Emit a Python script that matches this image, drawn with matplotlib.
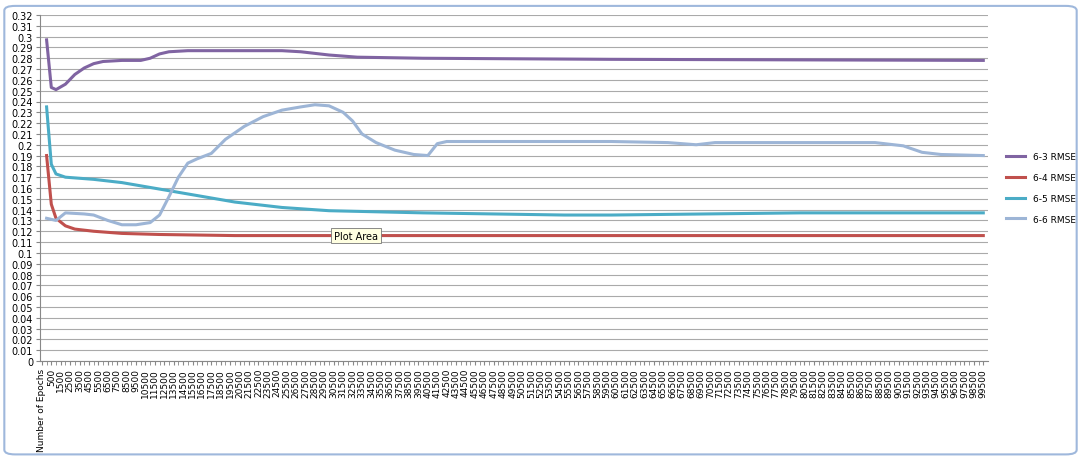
import numpy as np
import matplotlib.pyplot as plt
from matplotlib.patches import FancyBboxPatch

# values (epoch, RMSE)
e63 = [0, 500, 1000, 2000, 3000, 4000, 5000, 6000, 8000, 10000, 11000, 12000, 13000, 15000,
       20000, 25000, 27000, 30000, 33000, 40000, 60000, 99500]
r63 = [0.297, 0.253, 0.251, 0.256, 0.265, 0.271, 0.275, 0.277, 0.278, 0.278, 0.280, 0.284,
       0.286, 0.287, 0.287, 0.287, 0.286, 0.283, 0.281, 0.280, 0.279, 0.278]

e64 = [0, 500, 1000, 2000, 3000, 5000, 8000, 12000, 20000, 99500]
r64 = [0.190, 0.145, 0.132, 0.125, 0.122, 0.120, 0.118, 0.117, 0.116, 0.116]

e65 = [0, 500, 1000, 2000, 5000, 8000, 12000, 16000, 20000, 25000, 30000, 40000, 55000,
       60000, 70000, 80000, 99500]
r65 = [0.235, 0.182, 0.173, 0.170, 0.168, 0.165, 0.159, 0.153, 0.147, 0.142, 0.139, 0.137,
       0.135, 0.135, 0.136, 0.137, 0.137]

e66 = [0, 1000, 2000, 4000, 5000, 6500, 8000, 9500, 11000, 12000, 13000, 14000, 15000, 16000,
       17500, 19000, 21000, 23000, 25000, 27000, 28500, 30000, 31500, 32500, 33500, 35000,
       37000, 39000, 40500, 41500, 42500, 60000, 66000, 69000, 71000, 88000, 91000, 93000,
       95000, 99500]
r66 = [0.132, 0.130, 0.137, 0.136, 0.135, 0.130, 0.126, 0.126, 0.128, 0.135, 0.152, 0.170,
       0.183, 0.187, 0.192, 0.205, 0.217, 0.226, 0.232, 0.235, 0.237, 0.236, 0.230, 0.222,
       0.210, 0.202, 0.195, 0.191, 0.190, 0.201, 0.203, 0.203, 0.202, 0.200, 0.202, 0.202,
       0.199, 0.193, 0.191, 0.190]

names = ['6-3 RMSE', '6-4 RMSE', '6-5 RMSE', '6-6 RMSE']
colors = ['#8064a2', '#c0504d', '#4bacc6', '#9db5d6']

tick_pos = [-500] + list(range(500, 100000, 1000))
tick_lab = ['Number of Epochs'] + [str(t) for t in range(500, 100000, 1000)]

fig = plt.figure(figsize=(10.81, 4.6), dpi=100)
fig.patches.append(FancyBboxPatch((0.004, 0.01), 0.992, 0.975, boxstyle='round,pad=0,rounding_size=0.01',
                                  transform=fig.transFigure, fill=False, ec='#9fb8dc', lw=1.5))
ax = fig.add_axes([40 / 1081, 1 - 362 / 460, 948 / 1081, 346 / 460])

for e, r, n, c in zip([e63, e64, e65, e66], [r63, r64, r65, r66], names, colors):
    ax.plot(e, r, color=c, lw=2.2, label=n)

ax.set_ylim(0, 0.32)
ax.set_xlim(-700, 100000)
ax.set_yticks(np.arange(0, 0.3201, 0.01))
ax.set_yticklabels(['0'] + [f'{v:g}' for v in np.round(np.arange(0.01, 0.3201, 0.01), 2)], fontsize=7)
ax.set_xticks(tick_pos)
ax.set_xticklabels(tick_lab, rotation=90, fontsize=6.5)
ax.set_xticks(np.arange(0, 100000, 500), minor=True)
ax.tick_params(axis='x', which='both', length=3, color='#888888', pad=2)
ax.tick_params(axis='y', length=3, color='#888888', pad=2)
ax.grid(axis='y', color='#aaaaaa', lw=0.8)
ax.set_axisbelow(True)
for s in ['top', 'right']:
    ax.spines[s].set_visible(False)
ax.spines['left'].set_color('#888888')
ax.spines['bottom'].set_color('#888888')

ax.text(30500, 0.116, 'Plot Area', fontsize=7, va='center',
        bbox=dict(boxstyle='square,pad=0.3', fc='#ffffe1', ec='#777777', lw=0.6))

ax.legend(loc='center left', bbox_to_anchor=(1.01, 0.5), frameon=False, fontsize=6.5,
          handlelength=2.2, labelspacing=1.3)

fig.savefig('out.png', dpi=100)
